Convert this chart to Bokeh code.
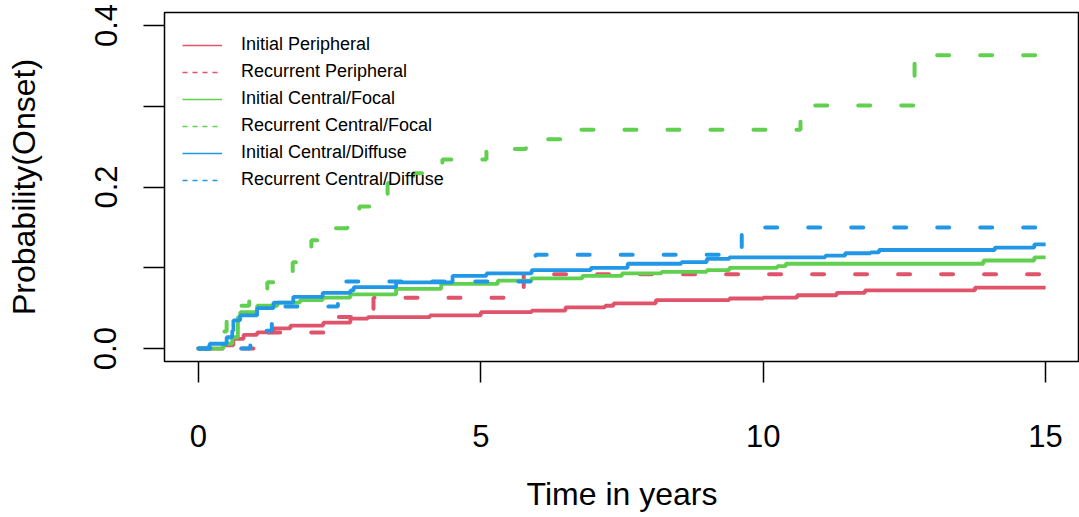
from bokeh.plotting import figure
from bokeh.models import Range1d, Legend, LegendItem, FixedTicker
from bokeh.embed import file_html
from bokeh.resources import INLINE

# ---- data ----
series_names = ["Initial Peripheral", "Recurrent Peripheral",
                "Initial Central/Focal", "Recurrent Central/Focal",
                "Initial Central/Diffuse", "Recurrent Central/Diffuse"]

init_periph_t = [0, 0.18, 0.44, 0.62, 0.8, 1.04, 1.33, 1.63, 2.21, 2.69, 3.0, 4.1, 5.0, 5.9, 6.5,
                 7.2, 7.35, 8.1, 9.4, 10.0, 10.6, 11.3, 11.8, 13.75, 15]
init_periph_p = [0, 0.0, 0.004, 0.012, 0.017, 0.020, 0.025, 0.0285, 0.032, 0.037, 0.039, 0.041, 0.045,
                 0.047, 0.051, 0.053, 0.056, 0.060, 0.062, 0.063, 0.066, 0.069, 0.072, 0.0755, 0.0755]

rec_periph_t = [0, 1.22, 2.27, 3.1, 5.76, 15]
rec_periph_p = [0, 0.020, 0.039, 0.063, 0.092, 0.092]

init_focal_t = [0, 0.18, 0.44, 0.6, 0.7, 0.74, 1.04, 1.4, 1.8, 2.2, 2.69, 3.5, 4.3, 5.3, 5.9, 6.8,
                7.5, 8.2, 9.0, 9.4, 10.25, 10.4, 13.9, 14.8, 15]
init_focal_p = [0, 0.0, 0.006, 0.014, 0.039, 0.045, 0.053, 0.057, 0.060, 0.063, 0.067, 0.074, 0.080,
                0.084, 0.087, 0.090, 0.093, 0.095, 0.097, 0.100, 0.102, 0.105, 0.109, 0.113, 0.113]

rec_focal_t = [0, 0.18, 0.5, 0.72, 0.9, 1.02, 1.22, 1.4, 1.67, 1.85, 2.0, 2.3, 2.64, 2.85, 3.12,
               3.35, 3.8, 4.32, 5.1, 5.8, 6.5, 10.66, 12.68, 15]
rec_focal_p = [0, 0.021, 0.040, 0.053, 0.063, 0.073, 0.082, 0.094, 0.107, 0.122, 0.134, 0.149, 0.160,
               0.176, 0.190, 0.205, 0.217, 0.234, 0.247, 0.259, 0.271, 0.301, 0.363, 0.363]

init_diffuse_t = [0, 0.2, 0.5, 0.6, 0.62, 0.74, 1.04, 1.33, 1.68, 2.2, 2.69, 2.75, 3.5, 4.5, 5.1, 5.9,
                  6.95, 7.6, 8.55, 9.0, 9.4, 11.1, 11.45, 11.9, 12.05, 14.1, 14.8, 15]
init_diffuse_p = [0, 0.006, 0.014, 0.022, 0.035, 0.041, 0.050, 0.057, 0.064, 0.069, 0.072, 0.076, 0.082,
                  0.090, 0.093, 0.097, 0.100, 0.105, 0.107, 0.111, 0.113, 0.115, 0.118, 0.119, 0.122,
                  0.125, 0.129, 0.129]

rec_diffuse_t = [0, 0.92, 1.3, 2.47, 5.97, 9.62, 15]
rec_diffuse_p = [0, 0.022, 0.052, 0.083, 0.116, 0.150, 0.150]

x_ticks = [0, 5, 10, 15]
y_ticks = [0, 0.1, 0.2, 0.3, 0.4]
y_tick_labels = {0: "0.0", 0.1: "", 0.2: "0.2", 0.3: "", 0.4: "0.4"}
x_title = "Time in years"
y_title = "Probability(Onset)"

RED, GREEN, BLUE = "#DF536B", "#61D04F", "#2297E6"
FONT = "Liberation Sans"

p = figure(width=1079, height=517, output_backend="svg", toolbar_location=None,
           x_range=Range1d(-0.6, 15.6), y_range=Range1d(-0.016, 0.416),
           min_border_left=164, min_border_right=0, min_border_top=12, min_border_bottom=156)
p.grid.visible = False
p.outline_line_color = "black"
p.outline_line_width = 1.5
p.background_fill_color = "white"
p.border_fill_color = "white"

curves = [
    (init_periph_t, init_periph_p, RED, None),
    (rec_periph_t, rec_periph_p, RED, "12 31"),
    (init_focal_t, init_focal_p, GREEN, None),
    (rec_focal_t, rec_focal_p, GREEN, "12 31"),
    (init_diffuse_t, init_diffuse_p, BLUE, None),
    (rec_diffuse_t, rec_diffuse_p, BLUE, "12 31"),
]
for t, pr, col, dash in curves:
    if dash is None:
        p.step(t, pr, mode="after", line_color=col, line_width=3.8)
    else:
        p.step(t, pr, mode="after", line_color=col, line_width=4, line_dash=dash, line_cap="round")

# legend proxies (thin lines as in the reference legend)
nan = float("nan")
items = []
for name, (t, pr, col, dash) in zip(series_names, curves):
    if dash is None:
        r = p.line([nan, nan], [nan, nan], line_color=col, line_width=1.6)
    else:
        r = p.line([nan, nan], [nan, nan], line_color=col, line_width=1.6, line_dash="5 5")
    items.append(LegendItem(label=name, renderers=[r]))

legend = Legend(items=items, location=(18, 171), glyph_width=40, glyph_height=20,
                label_height=20, spacing=6, padding=0, margin=0, label_standoff=19,
                border_line_color=None, background_fill_alpha=0,
                label_text_font=FONT, label_text_font_size="18px", label_text_color="black")
p.add_layout(legend, "center")

# axes
for ax in (p.xaxis[0], p.yaxis[0]):
    ax.axis_line_color = None
    ax.major_tick_line_color = "black"
    ax.major_tick_line_width = 1.5
    ax.major_tick_in = 0
    ax.major_tick_out = 21
    ax.minor_tick_line_color = None
    ax.major_label_text_font = FONT
    ax.major_label_text_font_size = "31px"
    ax.major_label_text_color = "black"
    ax.axis_label_text_font = FONT
    ax.axis_label_text_font_size = "32px"
    ax.axis_label_text_font_style = "normal"
    ax.axis_label_text_color = "black"

p.xaxis.ticker = FixedTicker(ticks=x_ticks)
p.xaxis.axis_label = x_title
p.xaxis.major_label_standoff = 42
p.xaxis.axis_label_standoff = 26

p.yaxis.ticker = FixedTicker(ticks=y_ticks)
p.yaxis.major_label_overrides = y_tick_labels
p.yaxis.major_label_orientation = "vertical"
p.yaxis.axis_label = y_title
p.yaxis.major_label_standoff = 27
p.yaxis.axis_label_standoff = 50

open("out.html", "w").write(file_html(p, INLINE))
